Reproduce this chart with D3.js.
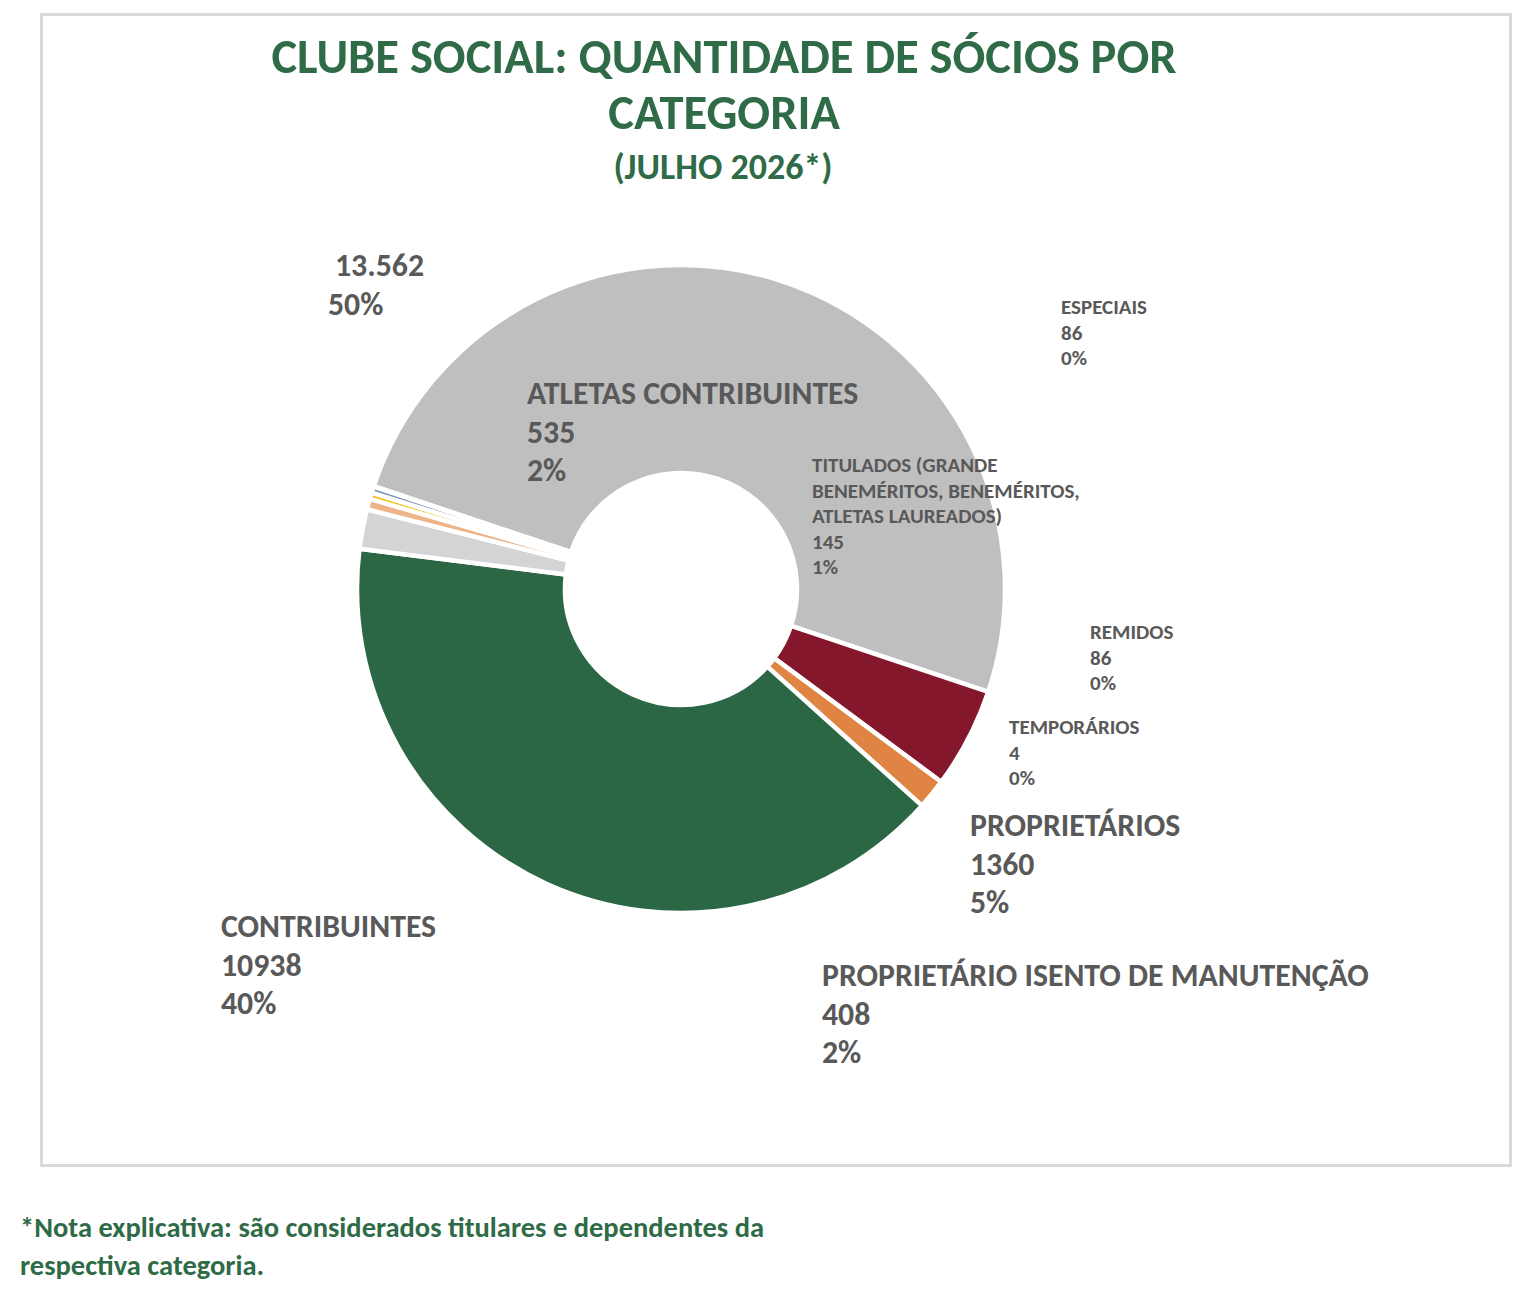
<!DOCTYPE html>
<html>
<head>
<meta charset="utf-8">
<script src="https://cdn.jsdelivr.net/npm/d3@7"></script>
<style>
  body { margin: 0; background: #fff; }
  text { font-family: Carlito, Lato, "Open Sans", sans-serif; font-weight: bold; }
</style>
</head>
<body>
<script>
// slices in drawing order (clockwise)
var categories = ["", "PROPRIETÁRIOS", "PROPRIETÁRIO ISENTO DE MANUTENÇÃO", "CONTRIBUINTES",
  "ATLETAS CONTRIBUINTES", "TITULADOS (GRANDE|BENEMÉRITOS, BENEMÉRITOS,|ATLETAS LAUREADOS)",
  "REMIDOS", "ESPECIAIS", "TEMPORÁRIOS"];
var values = [13562, 1360, 408, 10938, 535, 145, 86, 86, 4];
var valueLabels = ["13.562", "1360", "408", "10938", "535", "145", "86", "86", "4"];
var colors = ["#bfbfbf", "#84172b", "#e08443", "#2b6744", "#d3d4d6", "#edb48a", "#f2c21b", "#7f94b7", "#a5a5a5"];

var titleLines = ["CLUBE SOCIAL: QUANTIDADE DE SÓCIOS POR", "CATEGORIA"];
var subtitle = "(JULHO 2026*)";
var noteLines = ["*Nota explicativa: são considerados titulares e dependentes da", "respectiva categoria."];

// label layout: left x, first baseline, size class
var labelLayout = [
  { x: 328, y: 276, big: true, indent: 7 },
  { x: 970, y: 836, big: true },
  { x: 822, y: 986, big: true },
  { x: 221, y: 937, big: true },
  { x: 527, y: 404, big: true },
  { x: 812, y: 472, big: false },
  { x: 1090, y: 639, big: false },
  { x: 1061, y: 314, big: false },
  { x: 1009, y: 734, big: false }
];

var width = 1522, height = 1310;
var cx = 681, cy = 589, outerR = 324, innerR = 116;
var green = "#2e6b46", labelColor = "#595959";

var svg = d3.select("body").append("svg")
    .attr("width", width)
    .attr("height", height);

// chart frame
svg.append("rect")
    .attr("x", 41.5).attr("y", 14.5)
    .attr("width", 1469).attr("height", 1151)
    .attr("fill", "none")
    .attr("stroke", "#d9d9d9")
    .attr("stroke-width", 3);

var total = d3.sum(values);
var startAngle = -71.5 * Math.PI / 180;

var pie = d3.pie()
    .sort(null)
    .startAngle(startAngle)
    .endAngle(startAngle + 2 * Math.PI);

var arc = d3.arc()
    .innerRadius(innerR)
    .outerRadius(outerR);

var g = svg.append("g").attr("transform", "translate(" + cx + "," + cy + ")");

g.selectAll("path")
    .data(pie(values))
    .enter()
    .append("path")
    .attr("d", arc)
    .attr("fill", function(d, i) { return colors[i]; })
    .attr("stroke", "#fff")
    .attr("stroke-width", 4.5)
    .attr("stroke-linejoin", "miter");

// title
svg.selectAll("text.title")
    .data(titleLines)
    .enter()
    .append("text")
    .attr("class", "title")
    .attr("x", 724)
    .attr("y", function(d, i) { return 73 + i * 56; })
    .attr("text-anchor", "middle")
    .attr("fill", green)
    .style("font-size", "48.5px")
    .text(function(d) { return d; });

svg.append("text")
    .attr("x", 723)
    .attr("y", 179)
    .attr("text-anchor", "middle")
    .attr("fill", green)
    .style("font-size", "36px")
    .text(subtitle);

// data labels
var pct = d3.format(".0%");
categories.forEach(function(name, i) {
  var lay = labelLayout[i];
  var lines = name ? name.split("|") : [];
  lines.push(valueLabels[i]);
  lines.push(pct(values[i] / total));
  var size = lay.big ? 31.8 : 21;
  var step = lay.big ? 38.5 : 25.5;
  var t = svg.append("text")
      .attr("fill", labelColor)
      .style("font-size", size + "px");
  lines.forEach(function(line, j) {
    t.append("tspan")
      .attr("x", lay.x + (j === 0 && lay.indent ? lay.indent : 0))
      .attr("y", lay.y + j * step)
      .text(line);
  });
});

// footnote
svg.selectAll("text.note")
    .data(noteLines)
    .enter()
    .append("text")
    .attr("class", "note")
    .attr("x", 20)
    .attr("y", function(d, i) { return 1237 + i * 38; })
    .attr("fill", green)
    .style("font-size", "28.5px")
    .text(function(d) { return d; });
</script>
</body>
</html>
